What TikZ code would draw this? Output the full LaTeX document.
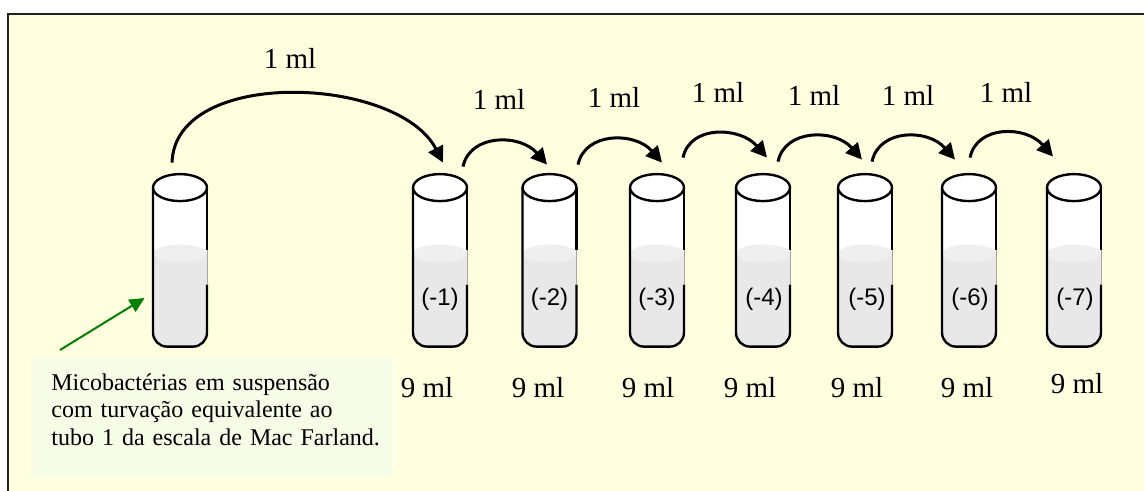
\documentclass[tikz,border=0pt]{standalone}
\usepackage{fontspec}
\setmainfont{Liberation Serif}
\newfontfamily\arialf{Liberation Sans}
\usetikzlibrary{arrows.meta,calc}
\definecolor{bgcol}{HTML}{FFFFE0}
\definecolor{notecol}{HTML}{F6FCE5}
\definecolor{liqcol}{HTML}{E8E8E8}
\definecolor{liqtopcol}{HTML}{EFEFEF}
\definecolor{arrowgreen}{HTML}{008000}
\definecolor{framecol}{HTML}{222222}
\tikzset{
  tubebox/.style={minimum width=27pt,minimum height=79.5pt,inner sep=0pt,draw=none},
  tubeline/.style={line width=1.2pt,black},
  flow/.style={line width=1.5pt,-{Triangle[length=8pt,width=8pt]}},
  greenflow/.style={line width=1pt,arrowgreen,-{Triangle[length=7.5pt,width=7pt]}},
  vol/.style={font=\fontsize{14.5}{16}\selectfont,inner sep=0pt,anchor=base},
  dil/.style={font=\arialf\fontsize{12}{13}\selectfont,inner sep=0pt},
  notebox/.style={fill=notecol,anchor=north west,inner ysep=0pt,inner xsep=10pt,
    text width=160.5pt,align=left,text height=16.5pt,text depth=43.5pt,
    font=\fontsize{12}{13.75}\selectfont},
  pics/tube/.style={code={
    \fill[white,rounded corners=7pt] (-27,0) -- (-27,159) -- (27,159) -- (27,0);
    \begin{scope}
      \clip[rounded corners=7pt] (-27,0) -- (-27,159) -- (27,159) -- (27,0);
      \fill[liqcol] (-30,66) rectangle (30,165);
      \fill[liqtopcol] (0,66) ellipse [x radius=27, y radius=9];
    \end{scope}
    \draw[tubeline,rounded corners=7pt] (27,97) -- (27,159) -- (-27,159) -- (-27,0);
    \draw[tubeline] (27,0) -- (27,62);
    \draw[black!35,line width=0.4pt] (27,62) -- (27,97);
    \draw[tubeline,fill=white] (0,0) ellipse [x radius=27, y radius=13.5];
  }}
}
\begin{document}
\begin{tikzpicture}[x=0.5pt,y=-0.5pt]
\useasboundingbox (0,0) rectangle (1144,491);
\fill[white] (0,0) rectangle (1144,491);
\draw[framecol,fill=bgcol,line width=1pt] (8,14) rectangle (1170,520);

% tubes
\foreach \n/\cx in {0/180,1/440,2/549.5,3/657,4/763,5/865,6/969,7/1074}{
  \node[tubebox] (t\n) at (\cx,267.5) {};
  \pic at (t\n.north) {tube};
}

% dilution labels
\node[dil] (d1) at (440,299) {(-1)};
\node[dil] (d2) at (549.5,299) {(-2)};
\node[dil] (d3) at (657,299) {(-3)};
\node[dil] (d4) at (764,299) {(-4)};
\node[dil] (d5) at (867,299) {(-5)};
\node[dil] (d6) at (970,299) {(-6)};
\node[dil] (d7) at (1075,299) {(-7)};

% volume labels
\node[vol] (v1) at (427,397) {9 ml};
\node[vol] (v2) at (538,397) {9 ml};
\node[vol] (v3) at (648,397) {9 ml};
\node[vol] (v4) at (750,397) {9 ml};
\node[vol] (v5) at (857,397) {9 ml};
\node[vol] (v6) at (967,397) {9 ml};
\node[vol] (v7) at (1077,393) {9 ml};

% transfer labels
\node[vol] (m0) at (290,69) {1 ml};
\node[vol] (m1) at (499,110) {1 ml};
\node[vol] (m2) at (614,108) {1 ml};
\node[vol] (m3) at (718,103) {1 ml};
\node[vol] (m4) at (814,106) {1 ml};
\node[vol] (m5) at (908,106) {1 ml};
\node[vol] (m6) at (1006,103) {1 ml};

% transfer arrows
\coordinate (s0) at ([shift={(-8,-25)}]t0.north);
\coordinate (e0) at ([shift={(3,-25)}]t1.north);
\draw[flow] (s0) .. controls ($(s0)+(3,-96)$) and ($(e0)+(-45,-87)$) .. (e0);

\coordinate (s1) at ([shift={(23,-21)}]t1.north);
\coordinate (e1) at ([shift={(-2.5,-23)}]t2.north);
\coordinate (s2) at ([shift={(28.5,-23)}]t2.north);
\coordinate (e2) at ([shift={(5,-25)}]t3.north);
\coordinate (s3) at ([shift={(26,-30)}]t3.north);
\coordinate (e3) at ([shift={(4,-30)}]t4.north);
\coordinate (s4) at ([shift={(15,-26)}]t4.north);
\coordinate (e4) at ([shift={(-3,-28)}]t5.north);
\coordinate (s5) at ([shift={(7,-26)}]t5.north);
\coordinate (e5) at ([shift={(-14,-28)}]t6.north);
\coordinate (s6) at ([shift={(1,-30)}]t6.north);
\coordinate (e6) at ([shift={(-21,-31)}]t7.north);
\foreach \i in {1,...,6}{
  \draw[flow] (s\i) .. controls ($(s\i)+(7,-33)$) and ($(e\i)+(-27,-31)$) .. (e\i);
}

% note
\node[notebox] (note) at (31,357) {\mbox{Micobactérias em suspensão}\\\mbox{com turvação equivalente ao}\\\mbox{tubo 1 da escala de Mac Farland.}};
\coordinate (g0) at ([shift={(29,-7)}]note.north west);
\draw[greenflow] (g0) -- ([shift={(-8,30.5)}]t0.west);
\end{tikzpicture}
\end{document}
